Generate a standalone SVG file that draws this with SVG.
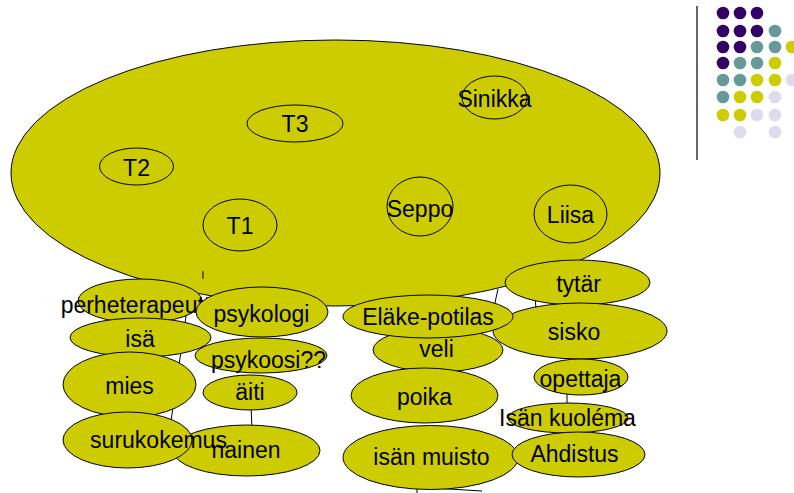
<svg xmlns="http://www.w3.org/2000/svg" width="794" height="493" viewBox="0 0 794 493">
  <style>
    .n { fill: #cccc00; stroke: #000; stroke-width: 1; }
    .i { fill: none; stroke: #000; stroke-width: 1; }
    text { font-family: "Liberation Sans", Arial, sans-serif; font-size: 23px; fill: #000; text-anchor: middle; }
    .c line { stroke: #000; stroke-width: 1; }
    .p { fill: #330066; } .t { fill: #669999; } .y { fill: #cccc00; } .l { fill: #dcdcee; }
  </style>

  <!-- corner decoration -->
  <g id="decor">
    <line x1="697" y1="6" x2="697" y2="160" stroke="#000" stroke-width="1.2"/>
    <g>
      <circle class="p" cx="723" cy="13" r="6.3"/><circle class="p" cx="740" cy="13" r="6.3"/><circle class="p" cx="757" cy="13" r="6.3"/>
      <circle class="p" cx="723" cy="31" r="6.3"/><circle class="p" cx="740" cy="31" r="6.3"/><circle class="p" cx="757" cy="31" r="6.3"/><circle class="t" cx="775" cy="31" r="6.3"/>
      <circle class="p" cx="723" cy="47" r="6.3"/><circle class="p" cx="740" cy="47" r="6.3"/><circle class="t" cx="757" cy="47" r="6.3"/><circle class="t" cx="775" cy="47" r="6.3"/><circle class="y" cx="792" cy="47" r="6.3"/>
      <circle class="p" cx="723" cy="63" r="6.3"/><circle class="t" cx="740" cy="63" r="6.3"/><circle class="t" cx="757" cy="63" r="6.3"/><circle class="y" cx="775" cy="63" r="6.3"/>
      <circle class="t" cx="723" cy="80" r="6.3"/><circle class="t" cx="740" cy="80" r="6.3"/><circle class="y" cx="757" cy="80" r="6.3"/><circle class="y" cx="775" cy="80" r="6.3"/><circle class="l" cx="792" cy="80" r="6.3"/>
      <circle class="t" cx="723" cy="97" r="6.3"/><circle class="y" cx="740" cy="97" r="6.3"/><circle class="y" cx="757" cy="97" r="6.3"/><circle class="l" cx="775" cy="97" r="6.3"/>
      <circle class="y" cx="723" cy="115" r="6.3"/><circle class="y" cx="740" cy="115" r="6.3"/><circle class="l" cx="757" cy="115" r="6.3"/><circle class="l" cx="775" cy="115" r="6.3"/>
      <circle class="l" cx="740" cy="132" r="6.3"/><circle class="l" cx="775" cy="132" r="6.3"/>
    </g>
  </g>

  <!-- outer group with the people inside -->
  <g id="ryhma">
    <ellipse class="n" cx="335.5" cy="173" rx="324.5" ry="133"/>
  </g>
  <g id="T3"><ellipse class="i" cx="295" cy="123.5" rx="48" ry="18.5"/><text x="295" y="132">T3</text></g>
  <g id="T2"><ellipse class="i" cx="136.5" cy="166.5" rx="37" ry="18.5"/><text x="136.5" y="175.5">T2</text></g>
  <g id="T1"><ellipse class="i" cx="240" cy="225" rx="37" ry="26"/><text x="240" y="234">T1</text></g>
  <g id="Sinikka"><ellipse class="i" cx="494.5" cy="97.5" rx="32.5" ry="21.5"/><text x="494.5" y="106.5">Sinikka</text></g>
  <g id="Seppo"><ellipse class="i" cx="420" cy="206.5" rx="33" ry="29.5"/><text x="420" y="216.5">Seppo</text></g>
  <g id="Liisa"><ellipse class="i" cx="570.5" cy="214" rx="36.5" ry="29"/><text x="570.5" y="223">Liisa</text></g>

  <!-- connectors -->
  <g id="connectors" class="c">
    <line x1="203" y1="271" x2="203" y2="279"/>
    <line x1="189" y1="295" x2="169" y2="435"/>
    <line x1="251" y1="405" x2="252" y2="430"/>
    <line x1="498" y1="289" x2="494" y2="307"/>
    <line x1="535" y1="298" x2="536" y2="308"/>
    <line x1="567" y1="390" x2="567" y2="408"/>
    <line x1="417" y1="484" x2="417" y2="493"/>
    <line x1="400" y1="486" x2="482" y2="491"/>
  </g>

  <!-- left column -->
  <g id="perheterapeutti"><ellipse class="n" cx="140" cy="301" rx="62" ry="22"/><text x="138" y="313">perheterapeutti</text></g>
  <g id="isa"><ellipse class="n" cx="140.5" cy="337.5" rx="70.5" ry="19.5"/><text x="140" y="346.5">isä</text></g>
  <g id="mies"><ellipse class="n" cx="129.5" cy="384.5" rx="66.5" ry="32.5"/><text x="129.5" y="393.5">mies</text></g>
  <g id="nainen"><ellipse class="n" cx="246.5" cy="450.5" rx="73.5" ry="25.5"/><text x="246" y="457.5">nainen</text></g>
  <g id="surukokemus"><ellipse class="n" cx="127.5" cy="440" rx="64.5" ry="28"/><text x="158.5" y="448">surukokemus</text></g>

  <!-- middle-left column -->
  <g id="psykologi"><ellipse class="n" cx="262" cy="312" rx="66" ry="25"/><text x="261.5" y="321.5">psykologi</text></g>
  <g id="psykoosi"><ellipse class="n" cx="261" cy="355.5" rx="66" ry="17.5"/><text x="268.5" y="368">psykoosi??</text></g>
  <g id="aiti"><ellipse class="n" cx="250" cy="392.5" rx="47" ry="17.5"/><text x="250" y="400">äiti</text></g>

  <!-- right columns -->
  <g id="tytar"><ellipse class="n" cx="577.5" cy="282.5" rx="72.5" ry="22.5"/><text x="578.5" y="291.5">tytär</text></g>
  <g id="sisko"><ellipse class="n" cx="580" cy="331" rx="87" ry="28"/><text x="574" y="340">sisko</text></g>
  <g id="veli"><ellipse class="n" cx="438" cy="350" rx="65" ry="22"/><text x="436.5" y="357">veli</text></g>
  <g id="elake-potilas"><ellipse class="n" cx="428" cy="316.5" rx="85" ry="21.5"/><text x="428" y="325">Eläke-potilas</text></g>
  <g id="poika"><ellipse class="n" cx="424.5" cy="395.5" rx="73.5" ry="27.5"/><text x="424.5" y="405">poika</text></g>
  <g id="opettaja"><ellipse class="n" cx="581" cy="377" rx="47" ry="18"/><text x="580.5" y="386.5">opettaja</text></g>
  <g id="isan-kuolema"><ellipse class="n" cx="568" cy="418" rx="60" ry="15"/><text x="567.5" y="426">Isän kuoléma</text></g>
  <g id="isan-muisto"><ellipse class="n" cx="430.5" cy="457.5" rx="87.5" ry="32"/><text x="431.5" y="465">isän muisto</text></g>
  <g id="ahdistus"><ellipse class="n" cx="578.5" cy="454.5" rx="66.5" ry="22.5"/><text x="574.5" y="462">Ahdistus</text></g>
</svg>
